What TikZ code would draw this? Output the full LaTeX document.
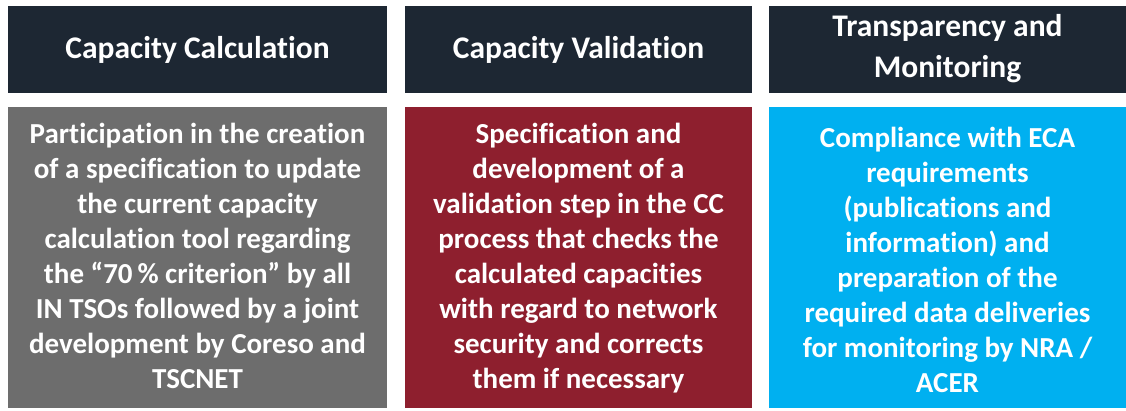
\documentclass[tikz,border=0pt]{standalone}
\usepackage{fontspec}
\setmainfont[RawFeature=-liga]{Carlito}
\definecolor{navy}{HTML}{1D2733}
\definecolor{cgray}{HTML}{6D6D6D}
\definecolor{cred}{HTML}{8E1F2E}
\definecolor{cblue}{HTML}{00B0F0}
\tikzset{
  hdr/.style={fill=navy, draw=none},
  hdrtext/.style={text=white, font=\bfseries\fontsize{31.5}{41}\selectfont, align=center, inner sep=0pt, anchor=base},
  bodytext/.style={text=white, font=\bfseries\fontsize{29}{35}\selectfont, align=center, inner sep=0pt, anchor=base},
}
\begin{document}
\begin{tikzpicture}[x=1pt,y=-1pt]
\useasboundingbox (0,0) rectangle (1126,410);
\fill[white] (0,0) rectangle (1126,410);
% headers
\path[hdr] (8,6) rectangle (387,93);
\path[hdr] (405,6) rectangle (752,93);
\path[hdr] (769,6) rectangle (1126,93);
\node[hdrtext] (h1) at (197.5,58) {Capacity Calculation};
\node[hdrtext] (h2) at (578.5,58) {Capacity Validation};
\node[hdrtext] (h3) at (947.5,77) {Transparency and\\Monitoring};
% bodies
\fill[cgray] (8,107) rectangle (387,408);
\fill[cred] (405,107) rectangle (752,408);
\fill[cblue] (769,107) rectangle (1126,408);
\node[bodytext] (b1) at (197.5,388) {Participation in the creation\\of a specification to update\\the current capacity\\calculation tool regarding\\the “70\,\% criterion” by all\\IN TSOs followed by a joint\\development by Coreso and\\TSCNET};
\node[bodytext] (b2) at (578.5,388) {Specification and\\development of a\\validation step in the CC\\process that checks the\\calculated capacities\\with regard to network\\security and corrects\\them if necessary};
\node[bodytext] (b3) at (947.5,392) {Compliance with ECA\\requirements\\(publications and\\information) and\\preparation of the\\required data deliveries\\for monitoring by NRA /\\ACER};
\end{tikzpicture}
\end{document}
